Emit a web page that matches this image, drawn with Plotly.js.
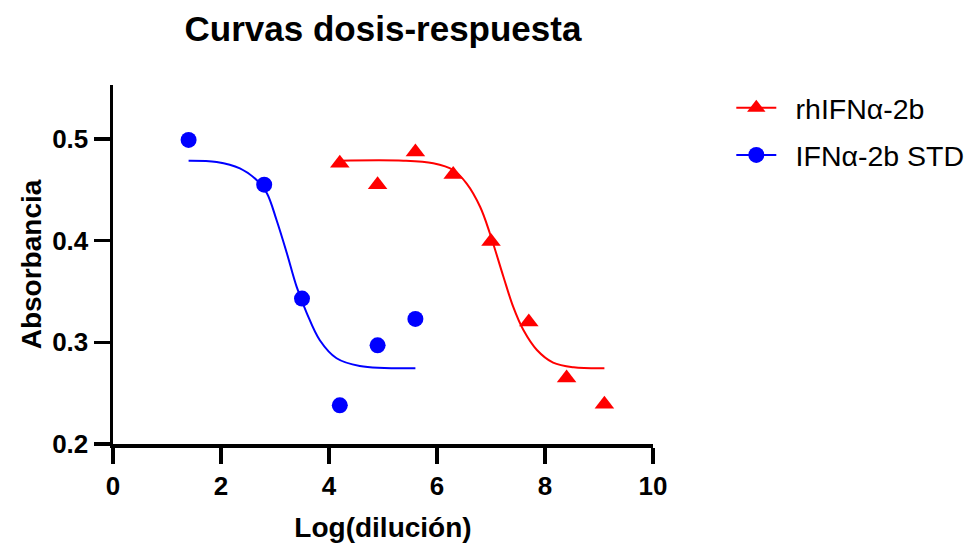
<!DOCTYPE html>
<html>
<head>
<meta charset="utf-8">
<script src="https://cdn.plot.ly/plotly-3.0.1.min.js"></script>
<style>html,body{margin:0;padding:0;background:#fff}#chart{width:971px;height:543px}</style>
</head>
<body>
<div id="chart"></div>
<script>
// Data points
const redName = "rhIFNα-2b";
const blueName = "IFNα-2b STD";
const redX = [4.2, 4.9, 5.6, 6.3, 7.0, 7.7, 8.4, 9.1];
const redY = [0.476, 0.455, 0.487, 0.465, 0.399, 0.320, 0.265, 0.239];
const blueX = [1.4, 2.8, 3.5, 4.2, 4.9, 5.6];
const blueY = [0.499, 0.455, 0.343, 0.238, 0.297, 0.323];
// Fitted curves, points
const redCurveX = [4.2, 5.38, 5.93, 6.30, 6.55, 6.80, 6.98, 7.23, 7.41, 7.60, 7.85, 8.15, 8.53, 9.1];
const redCurveY = [0.4786, 0.4786, 0.476, 0.4694, 0.456, 0.433, 0.407, 0.3645, 0.335, 0.312, 0.2924, 0.280, 0.2754, 0.2744];
const blueCurveX = [1.4, 1.92, 2.35, 2.66, 2.85, 3.03, 3.22, 3.40, 3.59, 3.83, 4.14, 4.57, 5.6];
const blueCurveY = [0.4786, 0.4773, 0.471, 0.4596, 0.4465, 0.420, 0.3875, 0.3547, 0.3285, 0.302, 0.2843, 0.2767, 0.2744];
const xTicks = [0, 2, 4, 6, 8, 10];
const yTicks = [0.2, 0.3, 0.4, 0.5];

const RED = "#FF0000", BLUE = "#0000FF";
const FONT = "Liberation Sans, Arial, sans-serif";
const GAP = "\u2002";

const traces = [
  {x: redCurveX, y: redCurveY, mode: "lines", line: {color: RED, width: 2, shape: "spline"}, showlegend: false, hoverinfo: "skip"},
  {x: blueCurveX, y: blueCurveY, mode: "lines", line: {color: BLUE, width: 2, shape: "spline"}, showlegend: false, hoverinfo: "skip"},
  {x: redX, y: redY, mode: "markers", marker: {color: RED, symbol: "triangle-up", size: 17}, showlegend: false},
  {x: blueX, y: blueY, mode: "markers", marker: {color: BLUE, symbol: "circle", size: 16}, showlegend: false},
  {x: [null], y: [null], name: GAP + redName, legendgroup: "a", mode: "lines+markers", line: {color: RED, width: 2}, marker: {color: RED, symbol: "triangle-up", size: 17}},
  {x: [null], y: [null], name: GAP + blueName, legendgroup: "b", mode: "lines+markers", line: {color: BLUE, width: 2}, marker: {color: BLUE, symbol: "circle", size: 16}}
];

const layout = {
  width: 971, height: 543,
  margin: {l: 113, r: 318, t: 85, b: 99, autoexpand: false},
  paper_bgcolor: "#fff", plot_bgcolor: "#fff",
  font: {family: FONT, color: "#000"},
  title: {text: "Curvas dosis-respuesta", font: {family: FONT, size: 35, weight: "bold", color: "#000"},
          x: 0.5, xref: "paper", xanchor: "center", y: 1 - 29/543, yref: "container", yanchor: "middle"},
  xaxis: {range: [0, 10], tickvals: xTicks, ticktext: xTicks.map(String), showgrid: false, zeroline: false,
          showline: true, linecolor: "#000", linewidth: 3.5, ticks: "outside", ticklen: 16, tickwidth: 3.5, tickcolor: "#000",
          tickfont: {family: FONT, size: 26, weight: "bold", color: "#000"},
          title: {text: "Log(dilución)", font: {family: FONT, size: 28, weight: "bold", color: "#000"}, standoff: 18}},
  yaxis: {range: [0.2, 0.553], tickvals: yTicks, ticktext: yTicks.map(v => v.toFixed(1)), showgrid: false, zeroline: false,
          showline: true, linecolor: "#000", linewidth: 3.5, ticks: "outside", ticklen: 16, tickwidth: 3.5, tickcolor: "#000",
          tickfont: {family: FONT, size: 26, weight: "bold", color: "#000"},
          title: {text: "Absorbancia", font: {family: FONT, size: 28, weight: "bold", color: "#000"}, standoff: 3}},
  legend: {x: 1.145, xanchor: "left", y: 1.006, yanchor: "top", traceorder: "grouped", tracegroupgap: 7,
           font: {family: FONT, size: 28.5, color: "#000"}, bgcolor: "rgba(0,0,0,0)", itemwidth: 40}
};

Plotly.newPlot("chart", traces, layout, {displayModeBar: false, staticPlot: true});
</script>
</body>
</html>
